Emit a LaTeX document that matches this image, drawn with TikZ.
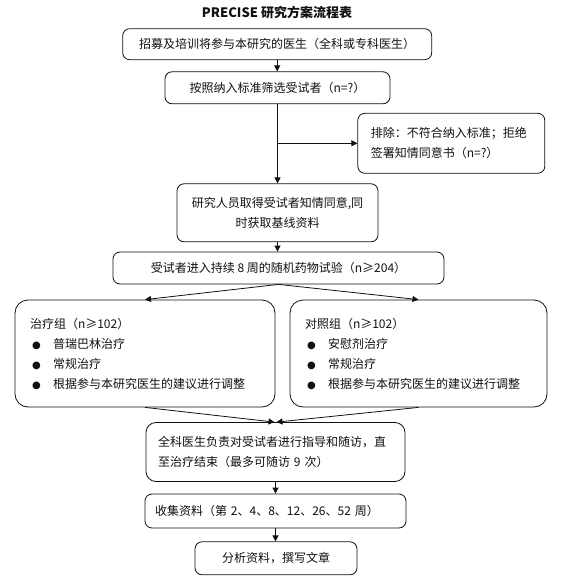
\documentclass[tikz,border=0pt]{standalone}
\usepackage{fontspec}
\setmainfont{Noto Sans CJK SC}
\newfontfamily\dotfont{DejaVu Sans}
\usepackage{xcolor}
\usetikzlibrary{arrows.meta,positioning,calc}
\definecolor{inkK}{HTML}{111111}
\newcommand{\bul}{\makebox[23pt][l]{\hspace{2pt}{\dotfont\fontsize{10}{10}\selectfont ●}}}

\begin{document}
\begin{tikzpicture}[x=1pt, y=-1pt,
  flowbox/.style={draw=inkK, fill=white, line width=0.8pt, rounded corners=7pt,
    font=\fontsize{12}{20}\selectfont, text=inkK, align=center, inner sep=0pt},
  groupbox/.style={flowbox, rounded corners=13pt, align=left, inner xsep=15pt},
  arr/.style={draw=inkK, line width=0.8pt, -{Triangle[length=6pt,width=6pt]}}]

  \useasboundingbox (0,0) rectangle (561,586);

  \node[font=\bfseries\fontsize{13}{15}\selectfont, text=inkK] (title) at (277,13)
    {PRECISE 研究方案流程表};

  \node[flowbox, minimum width=309pt, minimum height=31pt] (recruit) at (277.2,44.2)
    {招募及培训将参与本研究的医生（全科或专科医生）};
  \node[flowbox, minimum width=225pt, minimum height=32pt] (screen) at (277.5,87.8)
    {按照纳入标准筛选受试者（n=?）};
  \node[flowbox, align=left, inner xsep=13pt, text width=161pt, minimum height=60pt] (exclude) at (451.3,143.3)
    {排除：不符合纳入标准；拒绝\\签署知情同意书（n=?）};
  \node[flowbox, minimum width=201pt, minimum height=58pt] (consent) at (277.5,212.8)
    {研究人员取得受试者知情同意,同\\时获取基线资料};
  \node[flowbox, minimum width=331pt, minimum height=32pt] (enrol) at (278.5,268)
    {受试者进入持续 8 周的随机药物试验（n≥204）};

  \node[groupbox, text width=230pt, minimum height=107pt] (treat) at (145,353.5)
    {治疗组（n≥102）\\\bul 普瑞巴林治疗\\\bul 常规治疗\\\bul 根据参与本研究医生的建议进行调整};
  \node[groupbox, text width=227pt, minimum height=107pt] (control) at (418.5,353.5)
    {对照组（n≥102）\\\bul 安慰剂治疗\\\bul 常规治疗\\\bul 根据参与本研究医生的建议进行调整};

  \node[flowbox, rounded corners=10pt, align=left, inner xsep=12pt, text width=235pt, minimum height=59pt] (follow) at (275.5,452)
    {全科医生负责对受试者进行指导和随访，直\\至治疗结束（最多可随访 9 次）};
  \node[flowbox, align=left, inner xsep=10pt, text width=241pt, minimum height=34pt] (collect) at (275.5,511)
    {收集资料（第 2、4、8、12、26、52 周）};
  \node[flowbox, minimum width=162pt, minimum height=33pt] (analyse) at (276,558.3)
    {分析资料，撰写文章};

  \draw[arr] (recruit.south) -- (recruit.south |- screen.north);
  \draw[arr] (screen.south) -- (screen.south |- consent.north);
  \coordinate (split) at (screen.south |- exclude.west);
  \draw[arr] (split) -- (exclude.west);
  \draw[arr] (consent.south) -- (consent.south |- enrol.north);
  \draw[arr] (enrol.south) -- (treat.north);
  \draw[arr] (enrol.south) -- (control.north);
  \draw[arr] (treat.south) -- ($(follow.north)+(-1,0)$);
  \draw[arr] (control.south) -- ($(follow.north)+(1,0)$);
  \draw[arr] (follow.south) -- (follow.south |- collect.north);
  \draw[arr] (collect.south) -- (collect.south |- analyse.north);
\end{tikzpicture}
\end{document}
